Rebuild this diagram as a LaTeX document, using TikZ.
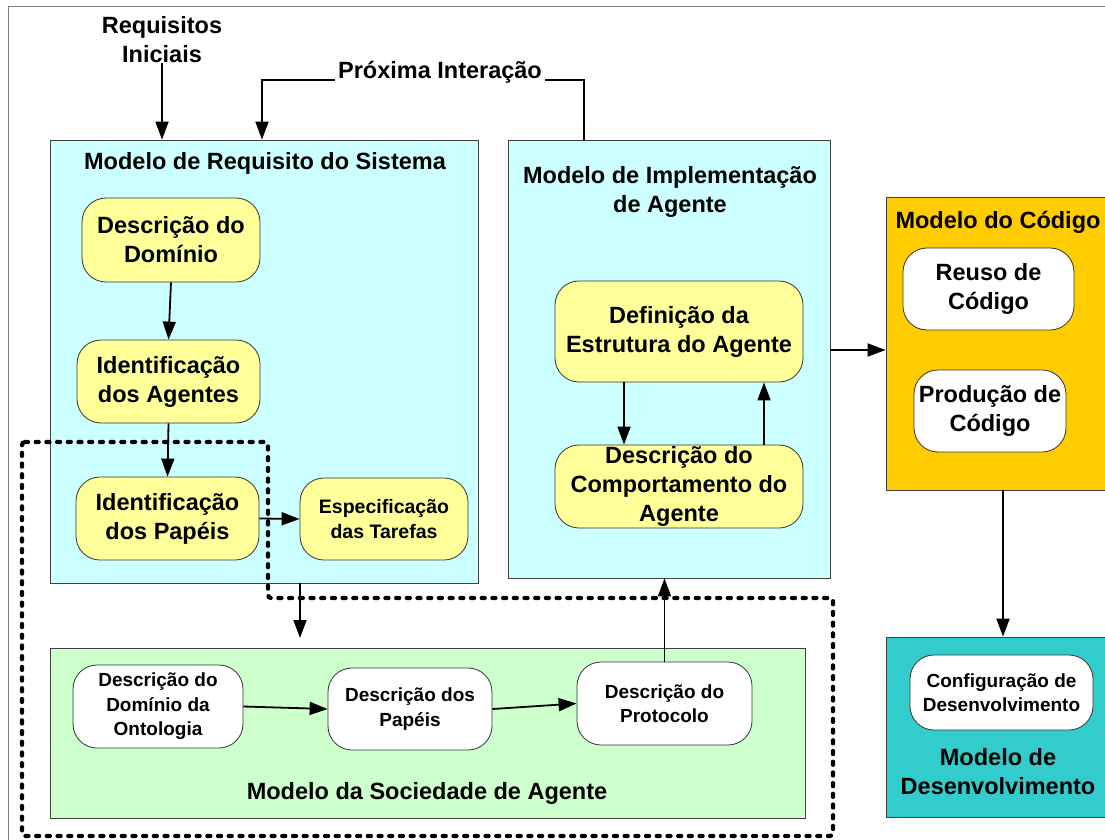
\documentclass[tikz,border=0pt]{standalone}
\usepackage{fontspec}
\setmainfont{Liberation Sans}
\usetikzlibrary{arrows.meta}
\definecolor{cyanbg}{HTML}{CCFFFF}
\definecolor{yel}{HTML}{FFFF99}
\definecolor{orng}{HTML}{FFCC00}
\definecolor{grn}{HTML}{CCFFCC}
\definecolor{tealbg}{HTML}{33CCCC}
\begin{document}
\begin{tikzpicture}[x=1pt,y=-1pt,
 big/.style={font=\bfseries\fontsize{23.5}{29}\selectfont, align=center, inner sep=0pt},
 mid/.style={font=\bfseries\fontsize{19.5}{25}\selectfont, align=center, inner sep=0pt},
 sml/.style={font=\bfseries\fontsize{19}{24.5}\selectfont, align=center, inner sep=0pt},
 panel/.style={draw=black!75, line width=0.8pt, inner sep=0pt},
 stage/.style={draw=black!80, line width=0.8pt, rounded corners=24pt, inner sep=0pt},
 arr/.style={line width=1.8pt, -{Triangle[length=18pt,width=13pt]}},
 link/.style={line width=1.8pt},
 grp/.style={line width=4.3pt, dash pattern=on 3pt off 7.7pt, line cap=round, rounded corners=3pt}
]
\useasboundingbox (0,0) rectangle (1105,840);
\fill[white] (0,0) rectangle (1105,840);
\draw[black!50, line width=0.8pt] (8,840) -- (8,6) -- (1105,6);

% panels
\node[panel, fill=cyanbg, minimum width=428pt, minimum height=443pt] (req) at (264,361.5) {};
\node[panel, fill=cyanbg, minimum width=322pt, minimum height=438pt] (impl) at (669,359) {};
\node[panel, fill=orng, minimum width=220pt, minimum height=293pt] (cod) at (996,343.5) {};
\node[panel, fill=tealbg, minimum width=220pt, minimum height=180pt] (dev) at (996,727) {};
\node[panel, fill=grn, minimum width=755pt, minimum height=170pt] (soc) at (427.5,733) {};

% titles
\node[big] (ri) at (162,40) {Requisitos\\Iniciais};
\node[big, inner sep=3pt] (pi) at (440,72) {Próxima Interação};
\node[big] (treq) at (265,163) {Modelo de Requisito do Sistema};
\node[big] (timpl) at (670,192) {Modelo de Implementação\\de Agente};
\node[big] (tcod) at (998,222) {Modelo do Código};
\node[big] (tdev) at (998,772) {Modelo de\\Desenvolvimento};
\node[big] (tsoc) at (427,793) {Modelo da Sociedade de Agente};

% stages
\node[stage, fill=yel, big, minimum width=178pt, minimum height=84pt] (dd) at (171,240) {Descrição do\\Domínio};
\node[stage, fill=yel, big, minimum width=183pt, minimum height=83pt] (ia) at (168.5,381.5) {Identificação\\dos Agentes};
\node[stage, fill=yel, big, minimum width=183pt, minimum height=83pt] (ip) at (167.5,518.5) {Identificação\\dos Papéis};
\node[stage, fill=yel, mid, minimum width=168pt, minimum height=82pt] (et) at (384,519) {Especificação\\das Tarefas};
\node[stage, fill=yel, big, minimum width=248pt, minimum height=101pt] (def) at (679,331.5) {Definição da\\Estrutura do Agente};
\node[stage, fill=yel, big, minimum width=248pt, minimum height=83pt] (comp) at (679,486.5) {Descrição do\\Comportamento do\\Agente};
\node[stage, fill=white, big, minimum width=171pt, minimum height=82pt] (reuso) at (988.5,289) {Reuso de\\Código};
\node[stage, fill=white, big, minimum width=152pt, minimum height=82pt] (prod) at (990,411) {Produção de\\Código};
\node[stage, fill=white, sml, minimum width=183pt, minimum height=75pt] (conf) at (1001.5,692.5) {Configuração de\\Desenvolvimento};
\node[stage, fill=white, sml, minimum width=170pt, minimum height=83pt] (ont) at (158,706.5) {Descrição do\\Domínio da\\Ontologia};
\node[stage, fill=white, sml, minimum width=164pt, minimum height=82pt] (pap) at (410,709) {Descrição dos\\Papéis};
\node[stage, fill=white, sml, minimum width=175pt, minimum height=83pt] (prot) at (664.5,703.5) {Descrição do\\Protocolo};

% helper coordinates
\coordinate (pL) at (262,80);
\coordinate (pR) at (584,80);
\coordinate (y350) at (0,350);
\coordinate (x1003) at (1003,0);
\coordinate (sa) at (300,638);

% connectors
\draw[arr] (ri.south) -- (ri.south |- req.north);
\draw[arr] (pi.west |- pL) -- (pL) -- (pL |- req.north);
\draw[link] (pi.east |- pR) -- (pR) -- (pR |- impl.north);
\draw[arr] (dd.south) -- (ia.north);
\draw[arr] (ia.south) -- (ip.north);
\draw[arr] (ip.east) -- (et.west);
\draw[arr] ([xshift=-55pt]def.south) -- ([xshift=-55pt]comp.north);
\draw[arr] ([xshift=85pt]comp.north) -- ([xshift=85pt]def.south);
\draw[arr] (impl.east |- y350) -- (cod.west |- y350);
\draw[arr] (x1003 |- cod.south) -- (x1003 |- dev.north);
\draw[arr] (sa |- req.south) -- (sa);
\draw[arr] (prot.north) -- (prot.north |- impl.south);
\draw[arr] (ont.east) -- (pap.west);
\draw[arr] (pap.east) -- (prot.west);

% dashed group
\draw[grp] (22,442) -- (268,442) -- (268,598) -- (833,598) -- (833,836) -- (22,836) -- cycle;
\end{tikzpicture}
\end{document}
